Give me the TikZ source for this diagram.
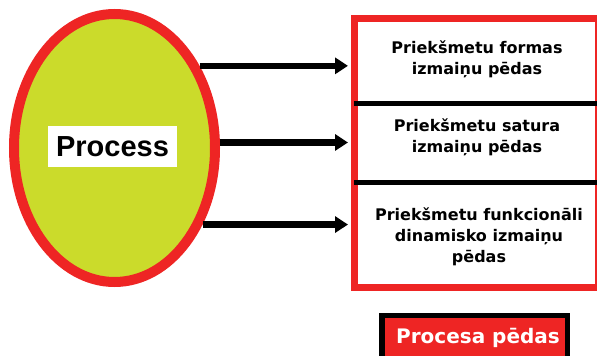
\documentclass[tikz,border=0pt]{standalone}
\usepackage{fontspec}
\usetikzlibrary{shapes.geometric, arrows.meta, positioning}
\newfontfamily\labelfont{Liberation Sans}
\newfontfamily\rowfont{DejaVu Sans}
\definecolor{procred}{RGB}{238,37,36}
\definecolor{proclime}{RGB}{203,219,43}

\begin{document}
\begin{tikzpicture}[x=1pt, y=-1pt,
  arr/.style={line width=6.5pt, -{Triangle[length=13pt,width=16pt]}, shorten >=3pt},
  rowtext/.style={align=center, inner sep=0pt, font=\rowfont\bfseries\fontsize{16}{21}\selectfont},
  divider/.style={line width=5pt}]
  \useasboundingbox (0,0) rectangle (597,356);

  % Process ellipse
  \node[ellipse, draw=procred, line width=10pt, fill=proclime, inner sep=0pt,
        minimum width=201pt, minimum height=268pt] (proc) at (114.5,148) {};
  \node[fill=white, inner sep=0pt, minimum width=129pt, minimum height=41pt,
        font=\labelfont\bfseries\fontsize{29}{29}\selectfont] (proclbl) at (112.5,146.5) {Process};

  % Frame with the three traces
  \node[draw=procred, line width=7pt, fill=white, inner sep=0pt,
        minimum width=244pt, minimum height=269pt] (frame) at (476.5,153) {};
  \draw[divider] (354,103) -- (600,103);
  \draw[divider] (354,182) -- (600,182);

  \node[rowtext] (row1) at (477,59)  {Priekšmetu formas\\izmaiņu pēdas};
  \node[rowtext] (row2) at (477,137) {Priekšmetu satura\\izmaiņu pēdas};
  \node[rowtext] (row3) at (479,237) {Priekšmetu funkcionāli\\dinamisko izmaiņu\\pēdas};

  % Arrows from the process
  \draw[arr] (proc.44) -- (proc.44 -| frame.west);
  \draw[arr] (proc.3)  -- (proc.3 -| frame.west);
  \draw[arr] (proc.-41) -- (proc.-41 -| frame.west);

  % Legend
  \node[draw=black, line width=5.5pt, fill=procred, minimum width=185.5pt, minimum height=45pt,
        inner sep=0pt] (legend) at (474.5,338) {};
  \node[text=white, inner sep=0pt, font=\rowfont\bfseries\fontsize{20}{20}\selectfont]
        (legendtxt) at (478,338) {Procesa pēdas};
\end{tikzpicture}
\end{document}
